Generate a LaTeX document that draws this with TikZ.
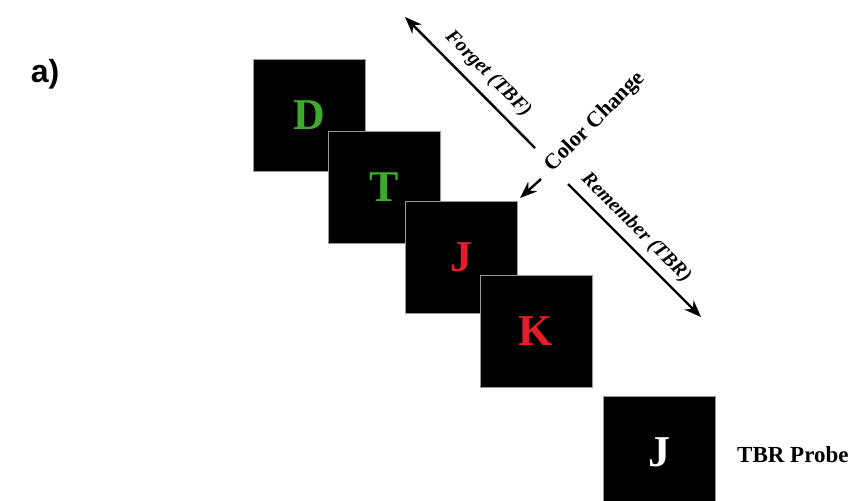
\documentclass[tikz,border=0pt]{standalone}
\usepackage{fontspec}
\setmainfont{Liberation Serif}
\newfontfamily\panelfont{Liberation Sans}
\usetikzlibrary{arrows.meta}
\definecolor{stimgreen}{RGB}{62,170,45}
\definecolor{stimred}{RGB}{226,30,40}
\begin{document}
\begin{tikzpicture}[x=1pt,y=-1pt,
  stim/.style={draw=black!40, line width=0.6pt, fill=black,
    minimum width=112pt, minimum height=112pt, inner sep=0pt,
    font=\fontsize{44}{44}\selectfont\bfseries},
  cue/.style={line width=2.4pt, -{Stealth[length=17pt,width=13pt]}},
  cuelabel/.style={inner sep=0pt, font=\fontsize{20}{20}\selectfont\bfseries},
  panel/.style={inner sep=0pt, font=\fontsize{32}{32}\selectfont\panelfont\bfseries}
]
\useasboundingbox (0,0) rectangle (852,501);
\clip (0,0) rectangle (852,501);

% panel tag
\node[panel] (tag) at (45,74) {a)};

% study sequence of letter displays
\node[stim, text=stimgreen] (d) at (309.5,115) {D};
\node[stim, text=stimgreen] (t) at (384.5,187.5) {T};
\node[stim, text=stimred]   (j) at (461,257.5) {J};
\node[stim, text=stimred]   (k) at (536,331) {K};

% probe display
\node[stim, text=white] (probe) at (659,452) {J};
\node[inner sep=0pt, anchor=west, font=\fontsize{23}{23}\selectfont\bfseries]
  (probelabel) at (737,455) {TBR Probe};

% cue arrows
\coordinate (fstart) at (535,148);
\coordinate (fend)   at (405,17);
\coordinate (cstart) at (541,179);
\coordinate (cend)   at (520,198);
\coordinate (rstart) at (568,184);
\coordinate (rend)   at (701,317);

\draw[cue] (fstart) -- (fend);
\draw[cue] (cstart) -- (cend);
\draw[cue] (rstart) -- (rend);

\node[cuelabel, rotate=-45] (forget) at (488,74) {\itshape Forget (TBF)};
\node[cuelabel, rotate=45, font=\fontsize{22}{22}\selectfont\bfseries] (color) at (595,122) {Color Change};
\node[cuelabel, rotate=-45] (remember) at (636,228) {\itshape Remember (TBR)};
\end{tikzpicture}
\end{document}
